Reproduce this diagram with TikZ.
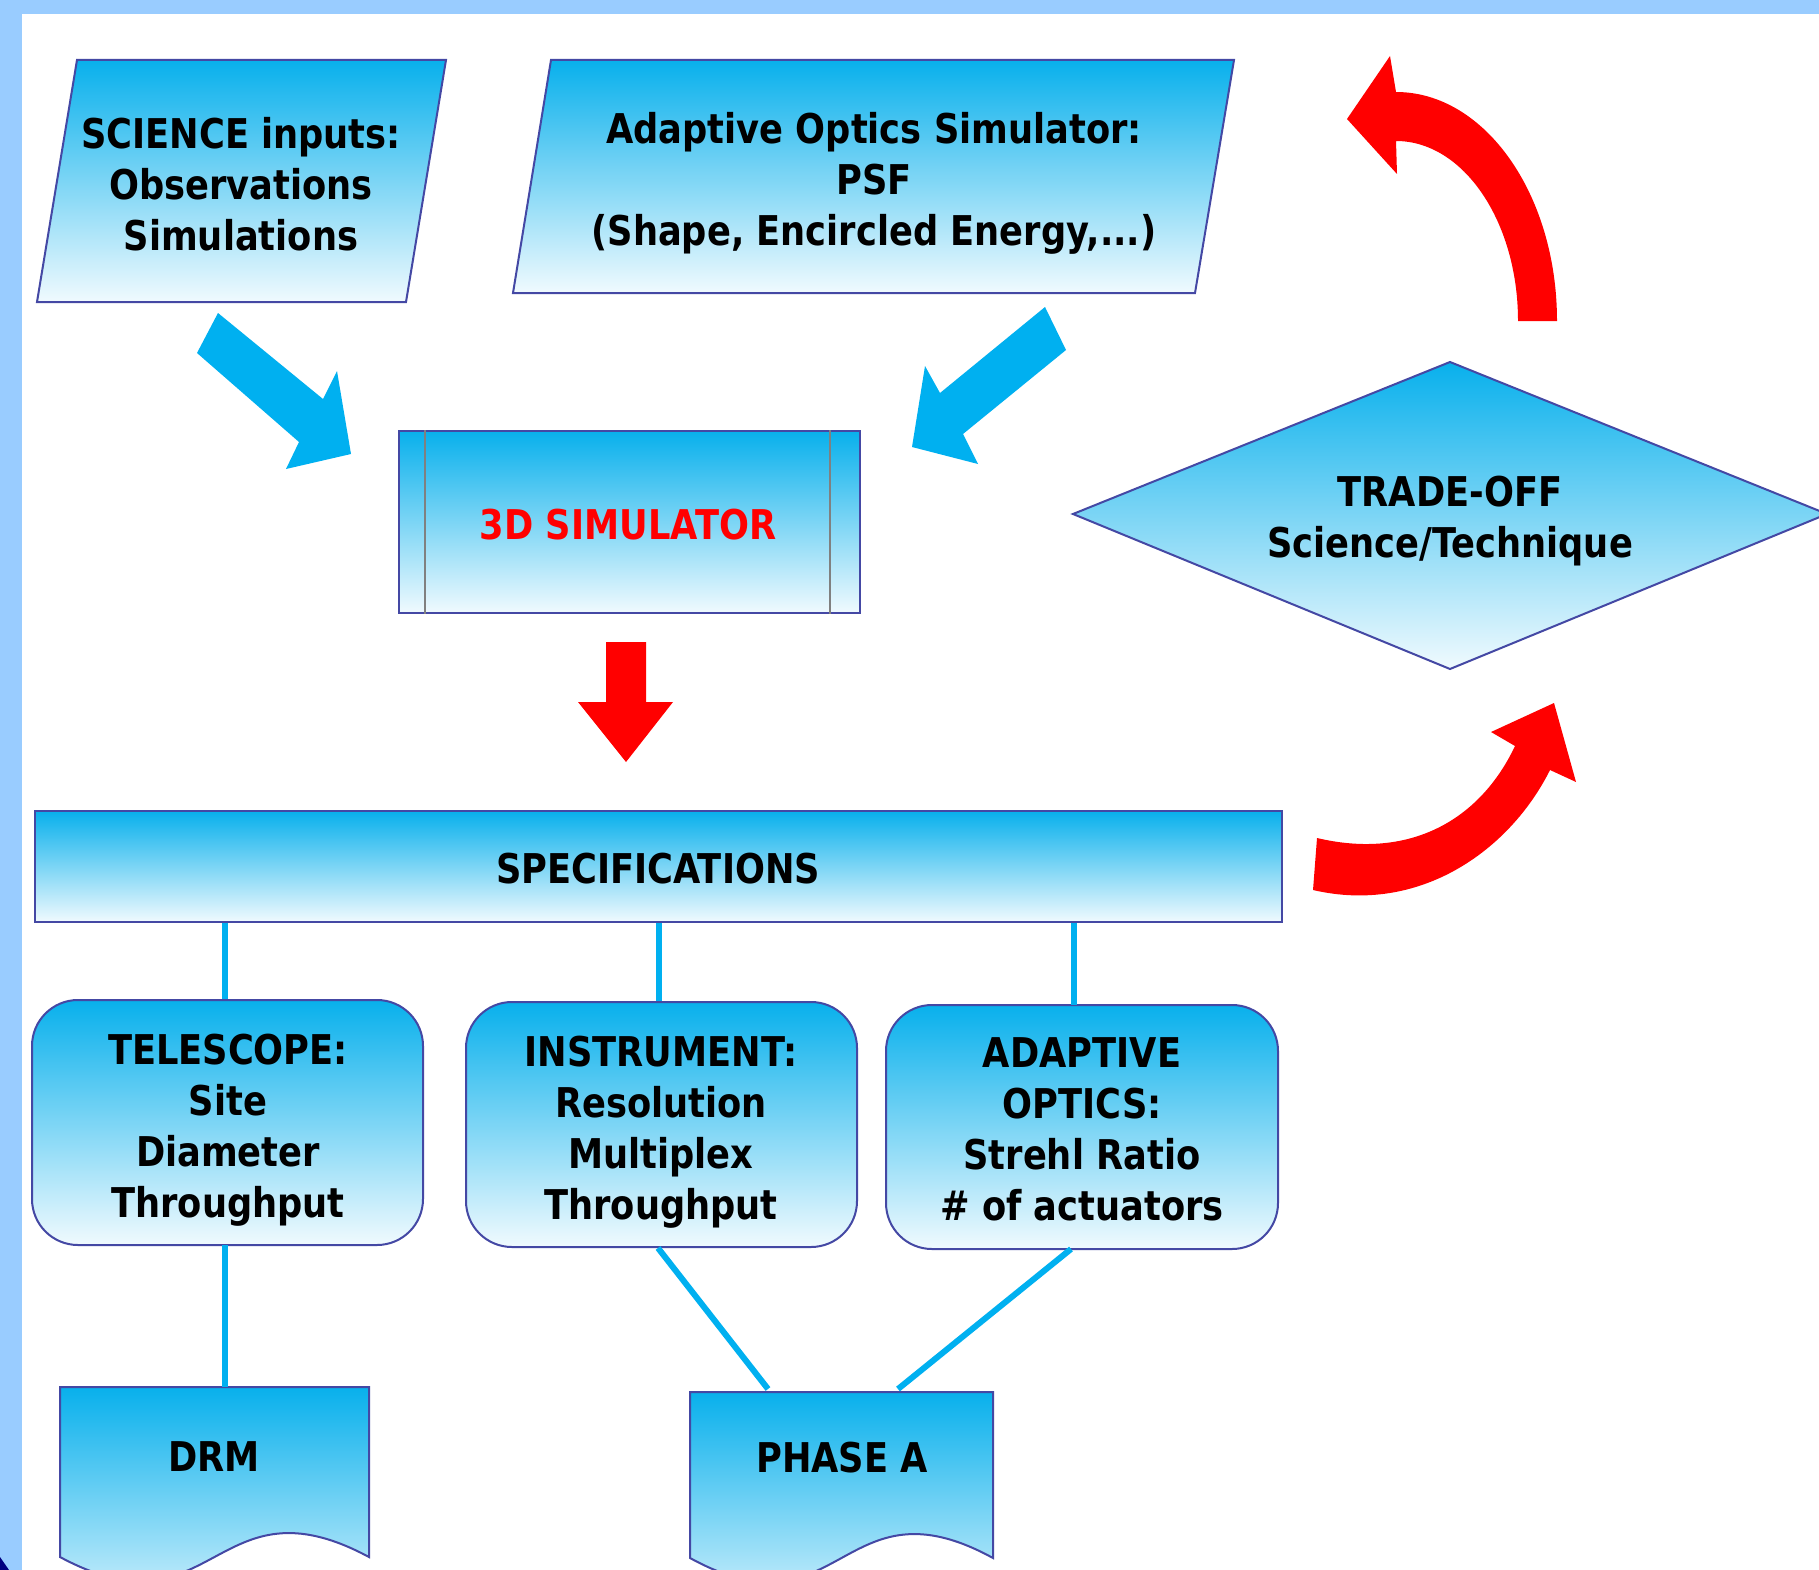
\documentclass[tikz,border=0pt]{standalone}
\usepackage{fontspec}
\newfontfamily\tfont[FakeStretch=0.86]{DejaVu Sans}
\definecolor{bandblue}{RGB}{153,204,255}
\definecolor{cyanA}{RGB}{0,176,240}
\definecolor{topc}{RGB}{8,176,236}
\definecolor{botc}{RGB}{240,250,254}
\definecolor{edge}{RGB}{68,72,164}
\definecolor{navyc}{RGB}{0,0,128}
\begin{document}
\begin{tikzpicture}[x=1pt,y=-1pt,
  fillgrad/.style={top color=topc,bottom color=botc,draw=edge,line width=2pt},
  lbl/.style={font=\tfont\bfseries\fontsize{41}{51}\selectfont,align=center,text=black,inner sep=0pt},
  link/.style={draw=cyanA,line width=6pt},
  bluearrow/.style={fill=cyanA},
  redarrow/.style={fill=red}]
\useasboundingbox (0,0) rectangle (1819,1570);
\clip (0,0) rectangle (1819,1570);
% background and frame bands
\fill[white] (0,0) rectangle (1819,1570);
\fill[bandblue] (0,0) rectangle (1819,14);
\fill[bandblue] (0,0) rectangle (22,1570);
\fill[navyc] (0,1557) -- (9,1570) -- (0,1570) -- cycle;

% parallelograms
\path[fillgrad] (77,60) -- (446,60) -- (406,302) -- (37,302) -- cycle;
\node[lbl] (sci) at (241,184) {SCIENCE inputs:\\Observations\\Simulations};
\path[fillgrad] (551,60) -- (1234,60) -- (1195,293) -- (513,293) -- cycle;
\node[lbl] (aosim) at (874,183) {Adaptive Optics Simulator:\\PSF\\(Shape, Encircled Energy,...)};

% 3D simulator
\node[fillgrad,minimum width=461pt,minimum height=182pt] (sim) at (629.5,522) {};
\node[lbl,text=red] (simtext) at (628,525) {3D SIMULATOR};
\draw[gray,line width=1.5pt] ([xshift=27pt]sim.north west) -- ([xshift=27pt]sim.south west);
\draw[gray,line width=1.5pt] ([xshift=-31pt]sim.north east) -- ([xshift=-31pt]sim.south east);

% blue block arrows
\fill[bluearrow] (218,313) -- (323,399) -- (337,371) -- (351,454) -- (286,469) -- (299,442) -- (197,353) -- cycle;
\fill[bluearrow] (1045,307) -- (1066,350) -- (963,434) -- (978,464) -- (912,447) -- (925,366) -- (940,393) -- cycle;

% red down arrow
\fill[redarrow] (606,642) -- (646,642) -- (646,702) -- (673,702) -- (626,762) -- (578,702) -- (606,702) -- cycle;

% trade-off diamond
\path[fillgrad] (1450,362) -- (1827,514) -- (1450,669) -- (1073,514) -- cycle;
\node[lbl] (trade) at (1450,521) {TRADE-OFF\\Science/Technique};

% red curved arrows
\fill[redarrow] (1557,321) .. controls (1557,194.5) and (1484.9,92) .. (1396,92)
  -- (1390,56) -- (1347,119) -- (1397,174) -- (1396,141)
  .. controls (1463.4,141) and (1518,221.6) .. (1518,321) -- cycle;
\fill[redarrow] (1313,890) .. controls (1420,915) and (1510,850) .. (1550,770)
  -- (1576,782) -- (1554,703) -- (1491,732) -- (1515,746)
  .. controls (1480,820) and (1410,860) .. (1317,838) -- cycle;

% specifications
\node[fillgrad,minimum width=1247pt,minimum height=111pt] (spec) at (658.5,866.5) {};
\node[lbl] (spectext) at (658,869) {SPECIFICATIONS};

% rounded boxes
\node[fillgrad,rounded corners=46pt,minimum width=391pt,minimum height=245pt] (tel) at (227.5,1122.5) {};
\node[lbl] (teltext) at (228,1130) {TELESCOPE:\\Site\\Diameter\\Throughput};
\node[fillgrad,rounded corners=46pt,minimum width=391pt,minimum height=245pt] (inst) at (661.5,1124.5) {};
\node[lbl] (insttext) at (661,1132) {INSTRUMENT:\\Resolution\\Multiplex\\Throughput};
\node[fillgrad,rounded corners=46pt,minimum width=392pt,minimum height=244pt] (ao) at (1082,1127) {};
\node[lbl] (aotext) at (1082,1129) {ADAPTIVE\\OPTICS:\\Strehl Ratio\\\# of actuators};

% documents
\path[fillgrad] (60,1387) -- (369,1387) -- (369,1557) .. controls (214.5,1474) and (214.5,1640) .. (60,1557) -- cycle;
\node[lbl] (drm) at (214,1457) {DRM};
\path[fillgrad] (690,1392) -- (993,1392) -- (993,1558) .. controls (841.5,1475) and (841.5,1641) .. (690,1558) -- cycle;
\node[lbl] (phase) at (842,1458) {PHASE A};

% connector anchor coordinates
\coordinate (telB) at (225,1245);
\coordinate (drmT) at (225,1387);
\coordinate (aoT) at (1074,1005);
\coordinate (aoB) at (1071,1249);
\coordinate (phL) at (768,1389);
\coordinate (phR) at (898,1389);

% connectors
\draw[link] (spec.south -| telB) -- (tel.north -| telB);
\draw[link] (spec.south) -- (spec.south |- inst.north);
\draw[link] (spec.south -| aoT) -- (aoT);
\draw[link] (telB) -- (drmT);
\draw[link] ([xshift=-3.5pt]inst.south) -- (phL);
\draw[link] (aoB) -- (phR);
\end{tikzpicture}
\end{document}
